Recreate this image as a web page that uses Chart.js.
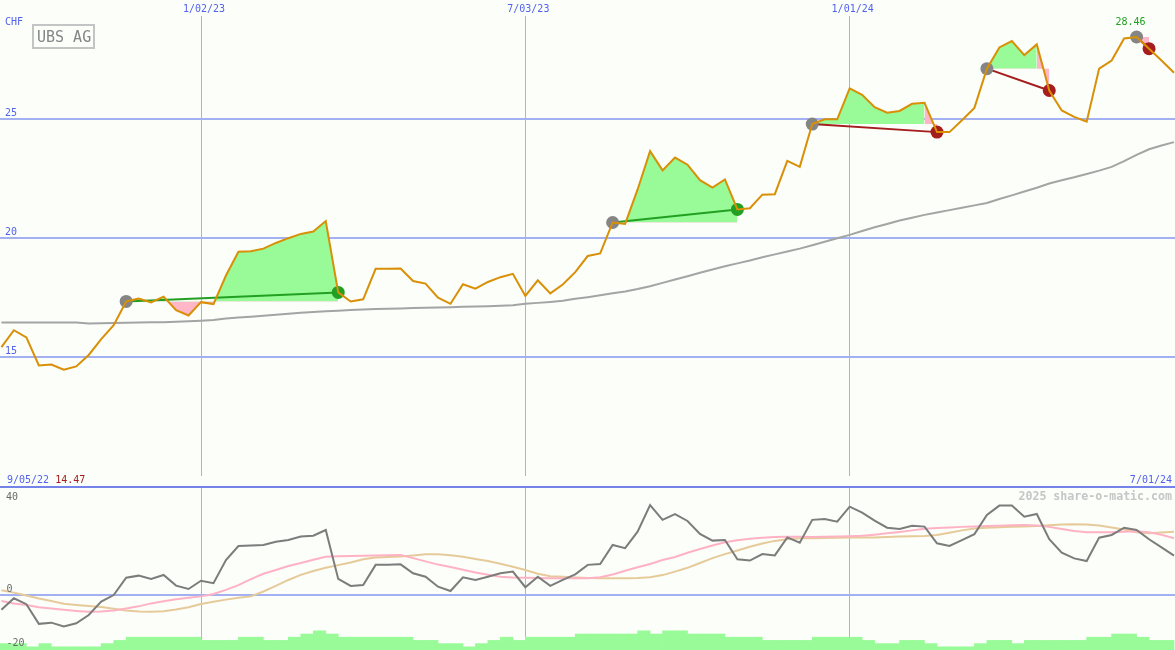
<!DOCTYPE html>
<html><head><meta charset="utf-8">
<script src="https://cdn.jsdelivr.net/npm/chart.js@4.4.1/dist/chart.umd.min.js"></script>
<style>
html,body{margin:0;padding:0;background:#fbfef9;}
#wrap{position:relative;width:1175px;height:650px;overflow:hidden;background:#fbfef9;}
#top{position:absolute;left:0;top:0;width:1175px;height:487px;}
#bot{position:absolute;left:0;top:480px;width:1175px;height:170px;}
</style></head><body>
<div id="wrap"><canvas id="top" width="1175" height="487"></canvas><canvas id="bot" width="1175" height="170"></canvas></div>
<script>
// ---------------- DATA ----------------
const title = 'UBS AG';
const currency = 'CHF';
const startDate = '9/05/22';
const endDate = '7/01/24';
const dateTicks = ['1/02/23', '7/03/23', '1/01/24'];
const priceTicks = [15, 20, 25];
const oscTicks = [40, 0, -20];
const watermark = '2025 share-o-matic.com';
const firstWeek = 1;            // weeks counted from startDate
// weekly closing price (CHF)
const price = [
  15.42,16.13,15.83,14.65,14.69,14.47,14.61,15.09,15.76,16.34,
  17.34,17.46,17.30,17.54,16.97,16.75,17.31,17.23,18.43,19.43,
  19.45,19.56,19.80,20.00,20.18,20.28,20.72,17.72,17.34,17.43,
  18.71,18.71,18.72,18.20,18.09,17.50,17.24,18.06,17.88,18.16,
  18.36,18.50,17.57,18.23,17.68,18.05,18.57,19.25,19.36,20.66,
  20.60,22.05,23.66,22.85,23.39,23.09,22.44,22.13,22.47,21.21,
  21.26,21.83,21.85,23.25,23.00,24.80,25.00,25.00,26.30,26.03,
  25.51,25.28,25.35,25.65,25.69,24.46,24.46,24.96,25.48,27.13,
  28.02,28.29,27.70,28.15,26.21,25.37,25.10,24.90,27.13,27.47,
  28.40,28.46,27.97,27.47,26.96
];
// long moving average
const movingAvg = [
  16.45,16.45,16.45,16.45,16.45,16.45,16.45,16.41,16.42,16.43,
  16.44,16.45,16.46,16.47,16.49,16.51,16.53,16.56,16.62,16.66,
  16.70,16.74,16.78,16.82,16.86,16.90,16.93,16.95,16.98,17.00,
  17.02,17.03,17.04,17.06,17.08,17.09,17.10,17.12,17.13,17.14,
  17.16,17.18,17.24,17.28,17.32,17.37,17.45,17.52,17.60,17.68,
  17.76,17.86,17.98,18.12,18.26,18.40,18.55,18.68,18.82,18.94,
  19.06,19.20,19.32,19.44,19.56,19.70,19.85,20.00,20.14,20.30,
  20.46,20.60,20.74,20.86,20.98,21.08,21.18,21.28,21.38,21.48,
  21.65,21.80,21.96,22.12,22.30,22.44,22.56,22.70,22.84,23.00,
  23.24,23.50,23.74,23.90,24.04
];
// trades (week numbers)
const tradeEntry = [11, 50, 66, 80, 92];
const tradeExit  = [28, 60, 76, 85, 93];
// lower panel indicator lines
const oscillator = [
  -5.6,-1.3,-3.5,-10.8,-10.35,-11.8,-10.6,-7.5,-2.55,-0.1,
  6.35,7.1,5.9,7.35,3.4,2.15,5.2,4.3,12.9,18.1,
  18.3,18.5,19.7,20.3,21.6,21.9,24.05,5.9,3.3,3.6,
  11.1,11.1,11.3,8.0,6.7,3.0,1.4,6.5,5.5,6.7,
  8.0,8.6,2.8,6.7,3.3,5.5,7.6,11.1,11.4,18.5,
  17.3,23.4,33.3,27.8,29.9,27.4,22.6,20.1,20.3,13.2,
  12.7,15.1,14.6,21.3,19.3,27.8,28.1,27.1,32.7,30.5,
  27.5,24.9,24.4,25.6,25.3,19.1,18.1,20.3,22.5,29.6,
  33.1,33.1,29.0,30.0,20.6,15.6,13.5,12.5,21.2,22.2,
  24.9,24.05,20.6,17.6,14.5
];
const signalFast = [
  -2.3,-3.2,-3.8,-4.6,-5.1,-5.6,-6.0,-6.3,-6.2,-5.8,
  -5.1,-4.3,-3.2,-2.4,-1.7,-1.1,-0.6,0.3,1.8,3.6,
  5.8,7.8,9.2,10.7,11.8,13.0,14.1,14.3,14.4,14.5,
  14.6,14.7,14.8,13.6,12.4,11.2,10.3,9.3,8.3,7.4,
  6.7,6.4,6.3,6.2,6.1,6.1,6.1,6.1,6.5,7.5,
  8.9,10.2,11.4,12.9,14.0,15.6,17.0,18.3,19.5,20.2,
  20.8,21.2,21.4,21.5,21.5,21.4,21.5,21.6,21.7,21.9,
  22.3,22.8,23.3,23.9,24.5,24.8,25.0,25.2,25.3,25.5,
  25.6,25.8,25.9,25.7,25.2,24.4,23.7,23.2,23.2,23.2,
  23.4,23.6,23.2,22.3,21.0
];
const signalSlow = [
  1.7,0.8,-0.3,-1.4,-2.3,-3.3,-3.8,-4.2,-4.5,-5.2,
  -5.8,-6.2,-6.3,-6.1,-5.5,-4.6,-3.4,-2.6,-1.8,-1.1,
  -0.6,1.2,3.3,5.5,7.4,8.8,10.0,11.0,12.0,13.2,
  13.8,14.0,14.2,14.6,15.0,15.0,14.7,14.1,13.3,12.5,
  11.5,10.4,9.2,7.8,6.9,6.7,6.4,6.2,6.1,6.1,
  6.1,6.2,6.5,7.3,8.6,10.0,11.8,13.6,15.1,16.4,
  17.8,19.0,20.0,20.6,21.0,21.0,21.1,21.2,21.3,21.3,
  21.3,21.4,21.6,21.7,21.8,22.2,23.0,23.9,24.6,24.9,
  25.1,25.2,25.3,25.5,25.8,26.1,26.2,26.1,25.7,25.0,
  24.2,23.2,22.8,23.1,23.4
];
// weekly volume (relative units), first bar is week 0
const volumeFirstWeek = 0;
const volume = [
  20,20,20,10,20,10,10,10,10,20,
  30,40,40,40,40,40,40,30,30,30,
  40,40,30,30,40,50,60,50,40,40,
  40,40,40,40,30,30,20,20,10,20,
  30,40,30,40,40,40,40,50,50,50,
  50,50,60,50,60,60,50,50,50,40,
  40,40,30,30,30,30,40,40,40,40,
  30,20,20,30,30,20,10,10,10,20,
  30,30,20,30,30,30,30,30,40,40,
  50,50,40,30,30
];

// ---------------- STYLE ----------------
const BLUE = '#5262ee', GRID = '#a3b1f2', SEP = '#7383ea';
const ORANGE = '#d98f06', MA_GRAY = '#a4a4a4';
const FILL_G = '#98fb98', FILL_P = '#ffb6c6';
const WIN = '#22a022', LOSS = '#a51d1d', DOT_GRAY = '#858585';
const FONT = '"DejaVu Sans Mono", monospace';
const X_MIN = 0.886, X_MAX = 95.08;

function parseDate(s){const [m,d,y]=s.split('/').map(Number);return Date.UTC(2000+y,m-1,d);}
function weekOf(s){return Math.round((parseDate(s)-parseDate(startDate))/(7*864e5));}
const tickWeeks = dateTicks.map(weekOf);
const series = arr => arr.map((v,i)=>({x:firstWeek+i,y:v}));
const pv = w => price[w-firstWeek];
const seg = (a,b) => {const r=[];for(let w=a;w<=b;w++)r.push({x:w,y:pv(w)});return r;};

// ---------------- TOP CHART ----------------
const topSets = [];
topSets.push({label:'price',data:series(price),borderColor:ORANGE,borderWidth:2,pointRadius:0,fill:false,order:0,tension:0});
const exitColors = [];
tradeEntry.forEach((e,t)=>{
  const x = tradeExit[t], lvl = pv(e), win = pv(x) > lvl;
  exitColors.push(win?WIN:LOSS);
  const fillSet = (data,above,below)=>({data,borderWidth:0,borderColor:'rgba(0,0,0,0)',pointRadius:0,
      fill:{target:{value:lvl},above,below},order:5,tension:0});
  if (win) topSets.push(fillSet(seg(e,x),FILL_G,FILL_P));
  else {
    if (x-1>e) topSets.push(fillSet(seg(e,x-1),FILL_G,FILL_P));
    topSets.push(fillSet(seg(x-1,x),FILL_P,FILL_P));
  }
  topSets.push({data:[{x:e,y:lvl},{x:x,y:pv(x)}],borderColor:win?WIN:LOSS,borderWidth:2,pointRadius:0,fill:false,order:2});
});
topSets.push({data:tradeEntry.map(w=>({x:w,y:pv(w)})),showLine:false,pointRadius:6.5,pointBorderWidth:0,
  pointBackgroundColor:DOT_GRAY,order:1});
topSets.push({data:tradeExit.map(w=>({x:w,y:pv(w)})),showLine:false,pointRadius:6.5,pointBorderWidth:0,
  pointBackgroundColor:exitColors,order:1});
topSets.push({label:'ma',data:series(movingAvg),borderColor:MA_GRAY,borderWidth:2,pointRadius:0,fill:false,order:3});

const topText = {
  id:'topText',
  afterDraw(chart){
    const ctx = chart.ctx, xs = chart.scales.x;
    ctx.save();
    ctx.textBaseline='alphabetic';
    ctx.font='10px '+FONT; ctx.fillStyle=BLUE; ctx.textAlign='left';
    ctx.fillText(currency,5,25);
    ctx.strokeStyle='#c4c4c4'; ctx.lineWidth=2; ctx.strokeRect(33,25,61,23);
    ctx.font='15px '+FONT; ctx.fillStyle='#858585'; ctx.fillText(title,37,42);
    // max label
    let mi=0; price.forEach((v,i)=>{if(v>price[mi])mi=i;});
    ctx.font='10px '+FONT; ctx.textAlign='center'; ctx.fillStyle=WIN;
    ctx.fillText(price[mi].toFixed(2), xs.getPixelForValue(firstWeek+mi)-6, 25);
    // bottom labels
    let ni=0; price.forEach((v,i)=>{if(v<price[ni])ni=i;});
    ctx.textAlign='left'; ctx.fillStyle=BLUE;
    ctx.fillText(startDate,7,483);
    const w = ctx.measureText(startDate+' ').width;
    ctx.fillStyle=LOSS; ctx.fillText(price[ni].toFixed(2),7+w,483);
    ctx.textAlign='right'; ctx.fillStyle=BLUE; ctx.fillText(endDate,1172,483);
    ctx.restore();
  }
};

new Chart(document.getElementById('top'),{
  type:'line',
  data:{datasets:topSets},
  options:{
    responsive:false,animation:false,devicePixelRatio:1,
    layout:{padding:0,autoPadding:false},
    plugins:{legend:{display:false},tooltip:{enabled:false}},
    scales:{
      x:{type:'linear',position:'top',min:X_MIN,max:X_MAX,offset:false,
        afterBuildTicks:s=>{s.ticks=tickWeeks.map(v=>({value:v}));},
        afterFit:s=>{s.height=16;},
        ticks:{autoSkip:false,maxRotation:0,minRotation:0,padding:1,labelOffset:3,color:BLUE,
          font:{family:FONT,size:10},callback:(v,i)=>dateTicks[i]},
        grid:{color:GRID,lineWidth:1,drawTicks:false},border:{display:false}},
      y:{type:'linear',min:10,max:29.343,
        afterBuildTicks:s=>{s.ticks=priceTicks.map(v=>({value:v}));},
        afterFit:s=>{s.width=0;},
        ticks:{mirror:true,padding:5,labelOffset:-6,color:BLUE,font:{family:FONT,size:10}},
        grid:{color:GRID,lineWidth:2,drawTicks:false},border:{display:false}}
    }
  },
  plugins:[topText]
});

// ---------------- BOTTOM CHART ----------------
const botText = {
  id:'botText',
  afterDraw(chart){
    const ctx=chart.ctx, ys=chart.scales.y;
    ctx.save();
    ctx.font='10px '+FONT; ctx.fillStyle='#6a6a6a'; ctx.textAlign='left'; ctx.textBaseline='alphabetic';
    ctx.fillText(String(oscTicks[0]),6,ys.getPixelForValue(oscTicks[0])+12.5);
    ctx.fillText(String(oscTicks[1]),6.5,ys.getPixelForValue(oscTicks[1])-2.3);
    ctx.fillText(String(oscTicks[2]),6.5,ys.getPixelForValue(oscTicks[2])-2.7);
    ctx.font='bold 11.6px '+FONT; ctx.fillStyle='#c6c6c6'; ctx.textAlign='right';
    ctx.fillText(watermark,1172,20);
    ctx.restore();
  }
};

new Chart(document.getElementById('bot'),{
  type:'line',
  data:{datasets:[
    {data:series(oscillator),borderColor:'#7c7c7c',borderWidth:2,pointRadius:0,fill:false,order:0},
    {data:series(signalFast),borderColor:'#ffb2c4',borderWidth:2,pointRadius:0,fill:false,order:1},
    {data:series(signalSlow),borderColor:'#e6ca9a',borderWidth:2,pointRadius:0,fill:false,order:2},
    {type:'bar',yAxisID:'yv',data:volume.map((v,i)=>({x:volumeFirstWeek+i+0.5,y:v})),
      backgroundColor:FILL_G,borderWidth:0,barPercentage:1,categoryPercentage:1,order:3}
  ]},
  options:{
    responsive:false,animation:false,devicePixelRatio:1,
    layout:{padding:{top:7,left:0,right:0,bottom:0},autoPadding:false},
    plugins:{legend:{display:false},tooltip:{enabled:false}},
    scales:{
      x:{type:'linear',min:X_MIN,max:X_MAX,offset:false,
        afterBuildTicks:s=>{s.ticks=tickWeeks.map(v=>({value:v}));},
        afterFit:s=>{s.height=0;},
        ticks:{display:false},
        grid:{color:GRID,lineWidth:1,drawTicks:false,offset:false},border:{display:false}},
      y:{type:'linear',min:-20.5,max:40,
        afterBuildTicks:s=>{s.ticks=[{value:0},{value:40}];},
        afterFit:s=>{s.width=0;},
        ticks:{display:false},
        grid:{color:c=>c.tick&&c.tick.value===40?SEP:GRID,lineWidth:2,drawTicks:false},border:{display:false}},
      yv:{type:'linear',display:false,min:0,max:510}
    }
  },
  plugins:[botText]
});
</script>
</body></html>
